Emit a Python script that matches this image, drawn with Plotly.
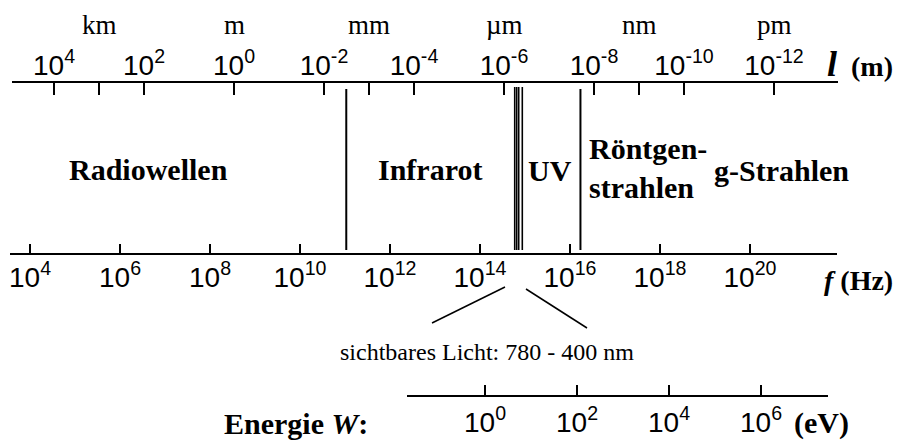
import math
import plotly.graph_objects as go

W, H = 897, 441

# ---- data ----
lam_tick_exp = [4, 2, 0, -2, -4, -6, -8, -10, -12]
lam_minor = [1e3, 1e-3, 1e-9]
unit_names = ["km", "m", "mm", "µm", "nm", "pm"]
unit_pos = [1e3, 1e0, 1e-3, 1e-6, 1e-9, 1e-12]
freq_tick_exp = [4, 6, 8, 10, 12, 14, 16, 18, 20]
energy_tick_exp = [0, 2, 4, 6]
boundary_ir = 3.2e-3      # m, radio / infrared
boundary_xray = 2.0e-8    # m, UV / X-ray
visible_lines = [578e-9, 522e-9, 471e-9, 392e-9]  # m

SANS = "Liberation Sans, Arial, sans-serif"
SERIF = "Liberation Serif, Times New Roman, serif"
BLACK = "black"


def sup(e):
    return "10<sup>%d</sup>" % e


def py(p):
    return 1 - p / H


# wavelength axis: 45 px per decade, 10^0 at x=234
lamL, lamR = 12, 838
lam_range = [(234 - lamL) / 45, (234 - lamR) / 45]
# frequency axis: 45 px per decade, 10^4 at x=30
fL, fR = 10, 837
f_range = [4 + (fL - 30) / 45, 4 + (fR - 30) / 45]
# energy axis: 46 px per decade, 10^0 at x=485
eL, eR = 407, 828
e_range = [(eL - 485) / 46, (eR - 485) / 46]

LAM_TOP, LAM_BOT = 83, 252
F_Y = 253
E_Y = 395

fig = go.Figure()

for b in [boundary_ir, boundary_xray]:
    fig.add_trace(go.Scatter(x=[b, b], y=[89, 250], mode="lines",
                             line=dict(color=BLACK, width=2), xaxis="x", yaxis="y",
                             hoverinfo="skip", showlegend=False))
for v in visible_lines:
    fig.add_trace(go.Scatter(x=[v, v], y=[87, 250], mode="lines",
                             line=dict(color=BLACK, width=1.6), xaxis="x", yaxis="y",
                             hoverinfo="skip", showlegend=False))
fig.add_trace(go.Scatter(x=[10.0 ** freq_tick_exp[0]], y=[0], mode="markers",
                         marker=dict(opacity=0), xaxis="x2", yaxis="y2",
                         hoverinfo="skip", showlegend=False))
fig.add_trace(go.Scatter(x=[10.0 ** energy_tick_exp[0]], y=[0], mode="markers",
                         marker=dict(opacity=0), xaxis="x3", yaxis="y3",
                         hoverinfo="skip", showlegend=False))

lam_vals = [10.0 ** e for e in lam_tick_exp] + lam_minor
lam_text = [sup(e) for e in lam_tick_exp] + [""] * len(lam_minor)

axis_common = dict(type="log", showgrid=False, zeroline=False, showline=True,
                   linecolor=BLACK, linewidth=2, tickcolor=BLACK, tickwidth=2,
                   tickmode="array", automargin=False, fixedrange=True,
                   tickfont=dict(family=SANS, size=28, color=BLACK))
yhidden = dict(visible=False, showgrid=False, zeroline=False, fixedrange=True)

fig.update_layout(
    width=W, height=H, margin=dict(l=0, r=0, t=0, b=0, pad=0), autosize=False,
    paper_bgcolor="white", plot_bgcolor="rgba(0,0,0,0)", showlegend=False,
    xaxis=dict(axis_common, domain=[lamL / W, lamR / W], range=lam_range,
               anchor="y", side="top", ticks="inside", ticklen=12,
               tickvals=lam_vals, ticktext=lam_text, ticklabelstandoff=-5),
    yaxis=dict(yhidden, domain=[py(LAM_BOT), py(LAM_TOP)], range=[LAM_BOT, LAM_TOP],
               anchor="x"),
    xaxis2=dict(axis_common, domain=[fL / W, fR / W], range=f_range,
                anchor="y2", side="bottom", ticks="inside", ticklen=9,
                tickvals=[10.0 ** e for e in freq_tick_exp],
                ticktext=[sup(e) for e in freq_tick_exp], ticklabelstandoff=-2),
    yaxis2=dict(yhidden, domain=[py(F_Y), py(F_Y - 20)], range=[0, 1], anchor="x2"),
    xaxis3=dict(axis_common, domain=[eL / W, eR / W], range=e_range,
                anchor="y3", side="bottom", ticks="inside", ticklen=10,
                tickvals=[10.0 ** e for e in energy_tick_exp],
                ticktext=[sup(e) for e in energy_tick_exp], ticklabelstandoff=1),
    yaxis3=dict(yhidden, domain=[py(E_Y), py(E_Y - 20)], range=[0, 1], anchor="x3"),
)

ann = []
for n, p in zip(unit_names, unit_pos):
    ann.append(dict(x=math.log10(p), xref="x", y=py(25), yref="paper", text=n,
                    showarrow=False, xanchor="center", yanchor="middle",
                    font=dict(family=SERIF, size=27, color=BLACK)))


def txt(text, x, y, size=30, xanchor="center", align="center", family=SERIF):
    ann.append(dict(x=x / W, y=py(y), xref="paper", yref="paper", text=text,
                    showarrow=False, xanchor=xanchor, yanchor="middle", align=align,
                    font=dict(family=family, size=size, color=BLACK)))


txt("<b><i><span style='font-size:36px'>l</span></i>  (m)</b>", 895, 64, size=28,
    xanchor="right")
txt("<b><i>f</i> (Hz)</b>", 895, 280, size=28, xanchor="right")
txt("<b>Radiowellen</b>", 148, 169)
txt("<b>Infrarot</b>", 430, 169)
txt("<b>UV</b>", 550, 170)
txt("<b>Röntgen-<br>strahlen</b>", 587, 168, xanchor="left", align="left")
txt("<b>g-Strahlen</b>", 781, 170)
txt("sichtbares Licht: 780 - 400 nm", 487, 352, size=24)
txt("<b>Energie <i>W</i>:</b>", 222, 423, size=30, xanchor="left")
txt("<b>(eV)</b>", 851, 423, size=30, xanchor="right")

fig.update_layout(annotations=ann)

shapes = [
    dict(type="line", xref="paper", yref="paper", x0=505 / W, y0=py(287), x1=432 / W, y1=py(323),
         line=dict(color=BLACK, width=1.5)),
    dict(type="line", xref="paper", yref="paper", x0=526 / W, y0=py(289), x1=587 / W, y1=py(328),
         line=dict(color=BLACK, width=1.5)),
]
fig.update_layout(shapes=shapes)

fig.write_html("out.html", config={"displayModeBar": False},
               post_script="document.body.style.margin='0px';")
